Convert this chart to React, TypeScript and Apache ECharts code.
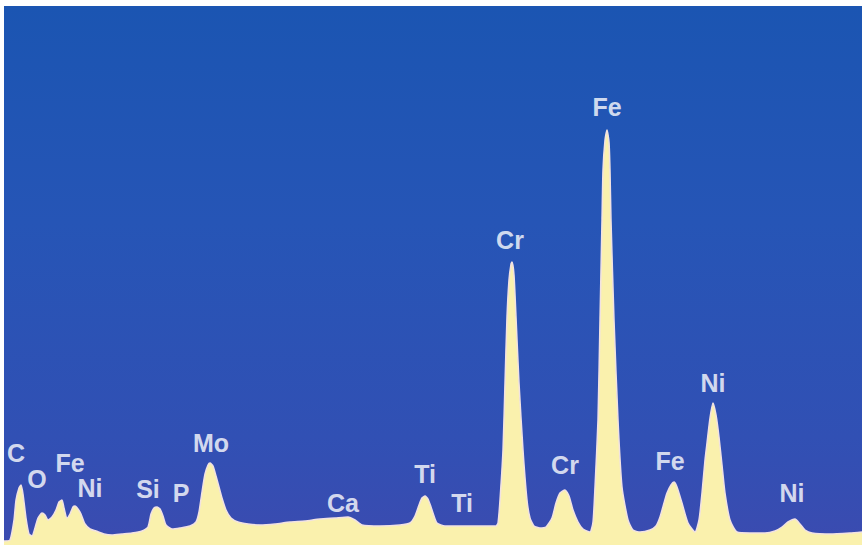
import React, { useEffect, useRef } from "react";
import * as echarts from "echarts";

// Spectrum outline: channel (x) and counts (height above baseline)
const channels = [
  4, 10, 14, 16, 19, 21, 23, 26, 29, 32, 35, 38, 42, 45, 48, 52, 56, 59, 62, 64, 67, 70, 73, 75, 78, 81, 85, 90, 96,
  104, 112, 122, 132, 142, 148, 151, 154, 157, 160, 163, 166, 172, 180, 190, 196, 199, 202, 205, 208, 210, 213, 216,
  219, 222, 226, 231, 238, 248, 260, 275, 290, 305, 320, 335, 348, 355, 362, 380, 400, 410, 415, 419, 422, 425, 428,
  431, 434, 437, 445, 460, 475, 490, 496, 498, 500, 503, 505, 507, 509, 511, 512, 514, 516, 519, 523, 527, 530, 534,
  540, 546, 552, 556, 560, 565, 569, 573, 578, 583, 590, 593, 595, 598, 600, 602, 603, 605, 607, 609, 610, 611, 614,
  618, 622, 628, 633, 640, 650, 656, 660, 664, 667, 671, 674, 677, 682, 688, 695, 699, 702, 705, 707, 710, 713, 716,
  719, 722, 725, 730, 737, 750, 765, 775, 782, 788, 795, 800, 805, 812, 830, 850, 862,
];
const counts = [
  4, 5, 25, 45, 57, 60, 51, 27, 11, 9, 17, 27, 32, 30, 25, 28, 35, 43, 45, 37, 27, 31, 38, 39, 36, 31, 21, 16, 14,
  11, 10, 11, 12, 14, 18, 31, 37, 38, 36, 29, 20, 16, 17, 19, 23, 33, 53, 71, 80, 82, 79, 69,
  58, 47, 35, 27, 23, 21, 20, 21, 23, 24, 26, 27, 28, 25, 20, 19, 20, 22, 29, 40, 47, 49, 46,
  38, 29, 22, 19, 19, 19, 19, 19, 22, 45, 95, 162, 228, 265, 281, 283, 270, 228, 162, 95, 45, 27, 19,
  17, 18, 27, 42, 52, 55, 49, 35, 23, 16, 13, 23, 58, 125, 225, 325, 375, 405, 415, 403, 375, 325, 225,
  125, 58, 25, 15, 13, 15, 19, 28, 42, 52, 60, 63, 58, 42, 22, 13, 25, 52, 85, 102, 127, 142, 130,
  108, 80, 52, 25, 13, 12, 12, 14, 18, 23, 26, 21, 15, 12, 11, 12, 13,
];

// Peak labels
const labelNames = ["C", "O", "Fe", "Ni", "Si", "P", "Mo", "Ca", "Ti", "Ti", "Cr", "Cr", "Fe", "Fe", "Ni", "Ni"];
const labelChannels = [16, 37, 70, 90, 148, 181, 211, 343, 425, 462, 510, 565, 607, 670, 713, 792];
const labelCounts = [92, 66, 82, 57, 56, 52, 102, 42, 71, 42, 305, 80, 438, 84, 162, 52];

export default function App() {
  const ref = useRef<HTMLDivElement>(null);
  useEffect(() => {
    document.body.style.margin = "0";
    if (!ref.current) return;
    const chart = echarts.init(ref.current, undefined, { renderer: "svg" });
    const spectrum = channels.map((c, i) => [c, counts[i]]);
    const labels = labelNames.map((n, i) => ({ name: n, value: [labelChannels[i], labelCounts[i]] }));
    chart.setOption({
      animation: false,
      backgroundColor: "#ffffff",
      grid: {
        left: 4,
        right: 2,
        top: 6,
        bottom: 3,
        show: true,
        borderWidth: 0,
        backgroundColor: new echarts.graphic.LinearGradient(0, 0, 0, 1, [
          { offset: 0, color: "#1b55b2" },
          { offset: 0.4, color: "#2655b6" },
          { offset: 0.8, color: "#3150b4" },
          { offset: 1, color: "#3b4bb0" },
        ]),
      },
      xAxis: { type: "value", min: 4, max: 862, show: false },
      yAxis: { type: "value", min: 0, max: 539, show: false },
      series: [
        {
          type: "line",
          data: spectrum,
          smooth: 0.2,
          symbol: "none",
          lineStyle: { color: "#f1e2e2", width: 1.5 },
          areaStyle: { color: "#faf1ad", opacity: 1 },
          z: 2,
        },
        {
          type: "scatter",
          data: labels,
          symbolSize: 0,
          z: 5,
          label: {
            show: true,
            position: "inside",
            formatter: "{b}",
            color: "#ffffff",
            fontFamily: "Liberation Sans, Arial, sans-serif",
            fontWeight: "bold",
            fontSize: 25,
          },
        },
      ],
    });
    return () => chart.dispose();
  }, []);
  return <div ref={ref} style={{ width: 864, height: 548 }} />;
}
